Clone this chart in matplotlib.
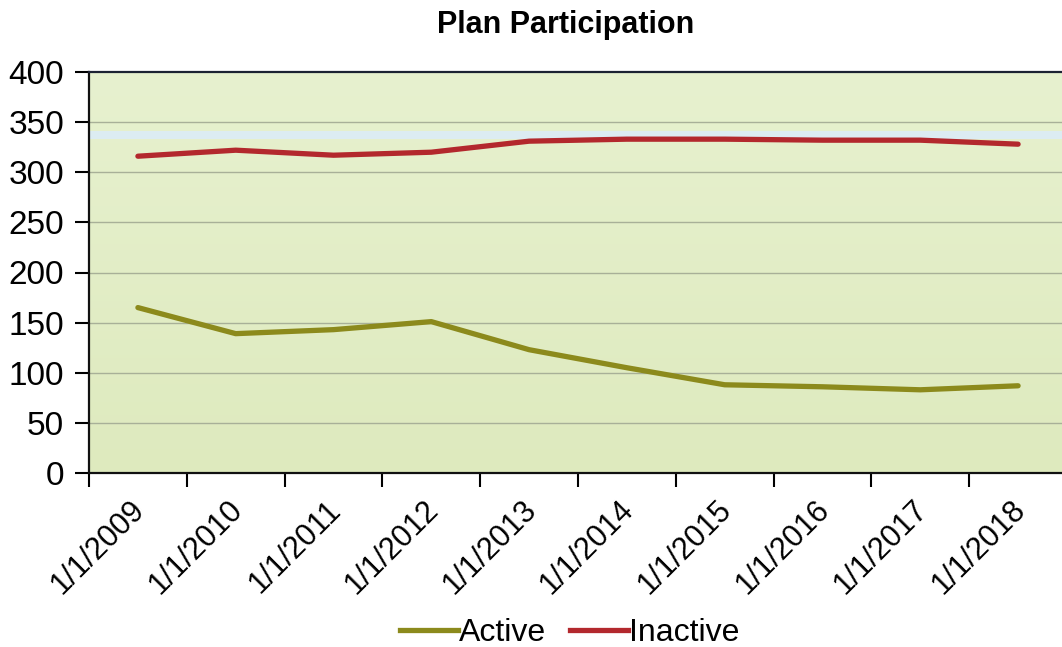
import numpy as np
import matplotlib
matplotlib.use("Agg")
import matplotlib.pyplot as plt
import matplotlib.transforms as mtransforms
from matplotlib.colors import LinearSegmentedColormap
from matplotlib.lines import Line2D

plt.rcParams['font.family'] = ['Liberation Sans', 'DejaVu Sans']

dates = ["1/1/2009", "1/1/2010", "1/1/2011", "1/1/2012", "1/1/2013",
         "1/1/2014", "1/1/2015", "1/1/2016", "1/1/2017", "1/1/2018"]
active = [165, 139, 143, 151, 123, 105, 88, 86, 83, 87]
inactive = [316, 322, 317, 320, 331, 333, 333, 332, 332, 328]
y_ticks = [0, 50, 100, 150, 200, 250, 300, 350, 400]

fig = plt.figure(figsize=(10.62, 6.47), dpi=100)
ax = fig.add_axes([89 / 1062, 1 - 473 / 647, 978 / 1062, 401 / 647])

n = len(dates)
x = np.arange(n)
ax.set_xlim(-0.5, n - 0.5)
ax.set_ylim(0, 400)

# soft green gradient plot background
grad = LinearSegmentedColormap.from_list("bg", ["#deeabe", "#e7f1cf"])
ax.imshow(np.linspace(0, 1, 256).reshape(-1, 1), aspect="auto", cmap=grad,
          extent=(-0.5, n - 0.5, 0, 400), origin="lower", zorder=0)
ax.axhspan(333, 341, color="#dcecf2", lw=0, zorder=0.5)

for yv in y_ticks[1:-1]:
    ax.axhline(yv, color="#a8b098", lw=1.0, zorder=1)

ax.plot(x, active, color="#8c8a1c", lw=3.8, solid_capstyle="round", zorder=3)
ax.plot(x, inactive, color="#b3282d", lw=3.8, solid_capstyle="round", zorder=3)

ax.set_yticks(y_ticks)
ax.set_yticklabels([str(v) for v in y_ticks], fontsize=24)

# category labels sit under each point, ticks mark the category boundaries
ax.set_xticks(np.arange(n + 1) - 0.5)
ax.set_xticklabels([])
ax.tick_params(axis="x", length=10, width=1.5, direction="out")
label_tf = (mtransforms.blended_transform_factory(ax.transData, ax.transAxes)
            + mtransforms.ScaledTranslation(-8 / 100, -22 / 100,
                                            fig.dpi_scale_trans))
for xi, lab in zip(x, dates):
    ax.text(xi, 0, lab, transform=label_tf, fontsize=22, rotation=45,
            ha="right", va="top", rotation_mode="anchor", clip_on=False)
ax.tick_params(axis="y", length=10, width=1.5, direction="out", pad=8)

for side in ["left", "bottom", "top"]:
    ax.spines[side].set_color("#111111")
    ax.spines[side].set_linewidth(1.6)
ax.spines["top"].set_color("#1c2233")
ax.spines["right"].set_visible(False)

fig.text(566 / 1062, 1 - 25 / 647, "Plan Participation", ha="center",
         va="center", fontsize=22, fontweight="bold")

handles = [Line2D([], [], color="#8c8a1c", lw=3.8),
           Line2D([], [], color="#b3282d", lw=3.8)]
fig.legend(handles, ["Active", "Inactive"], loc="center",
           bbox_to_anchor=(570 / 1062, 1 - 633 / 647), ncol=2, frameon=False,
           fontsize=23, handlelength=1.8, handletextpad=0.05,
           columnspacing=0.75)

fig.savefig("out.png", dpi=100, facecolor="white")
